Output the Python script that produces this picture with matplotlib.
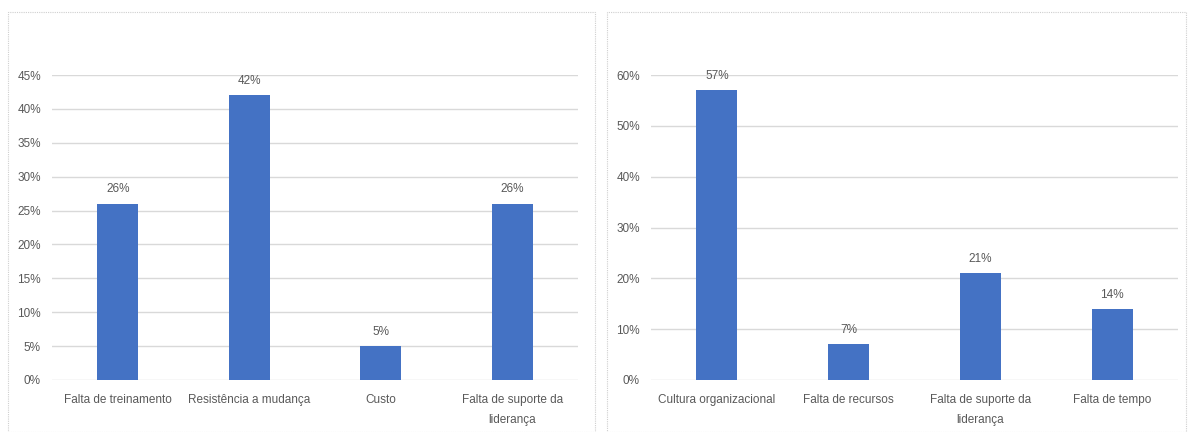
import matplotlib.pyplot as plt
from matplotlib.patches import Rectangle

plt.rcParams['font.family'] = ['Liberation Sans Narrow', 'Liberation Sans', 'DejaVu Sans']

# --- Data ---
left_cats = ["Falta de treinamento", "Resistência a mudança", "Custo",
             "Falta de suporte da\nliderança"]
left_vals = [26, 42, 5, 26]
left_ticks = [0, 5, 10, 15, 20, 25, 30, 35, 40, 45]

right_cats = ["Cultura organizacional", "Falta de recursos",
              "Falta de suporte da\nliderança", "Falta de tempo"]
right_vals = [57, 7, 21, 14]
right_ticks = [0, 10, 20, 30, 40, 50, 60]

BAR_COLOR = "#4472C4"
TEXT_COLOR = "#595959"
GRID_COLOR = "#d9d9d9"
W, H = 1188, 432

fig = plt.figure(figsize=(W / 100, H / 100), dpi=100)

# Panel frames (dotted light gray borders)
for x0, x1 in [(8, 595), (607, 1186)]:
    fig.patches.append(Rectangle((x0 / W, 0), (x1 - x0) / W, (H - 12) / H,
                                 transform=fig.transFigure, fill=False,
                                 edgecolor="#cfcfcf", linewidth=0.8,
                                 linestyle=(0, (1, 1))))


def draw_panel(rect, cats, vals, ticks):
    ax = fig.add_axes(rect)
    x = range(len(cats))
    ax.bar(x, vals, width=0.31, color=BAR_COLOR, zorder=3)
    ax.set_xlim(-0.5, len(cats) - 0.5)
    ax.set_ylim(0, ticks[-1])
    ax.set_yticks(ticks)
    ax.set_yticklabels([f"{t}%" for t in ticks])
    ax.set_xticks(list(x))
    ax.set_xticklabels(cats, linespacing=1.9)
    ax.yaxis.grid(True, color=GRID_COLOR, linewidth=1)
    ax.set_axisbelow(True)
    for s in ax.spines.values():
        s.set_visible(False)
    ax.tick_params(length=0, colors=TEXT_COLOR, labelsize=8.5)
    ax.tick_params(axis='y', pad=8)
    ax.tick_params(axis='x', pad=10)
    for xi, v in zip(x, vals):
        ax.annotate(f"{v}%", (xi, v), xytext=(0, 6), textcoords="offset points",
                    ha="center", va="bottom", fontsize=8.5, color=TEXT_COLOR)
    return ax


y0 = (H - 380) / H
hgt = (380 - 75) / H
draw_panel([52 / W, y0, 526 / W, hgt], left_cats, left_vals, left_ticks)
draw_panel([651 / W, y0, 527 / W, hgt], right_cats, right_vals, right_ticks)

fig.savefig("out.png", dpi=100, facecolor="white")
